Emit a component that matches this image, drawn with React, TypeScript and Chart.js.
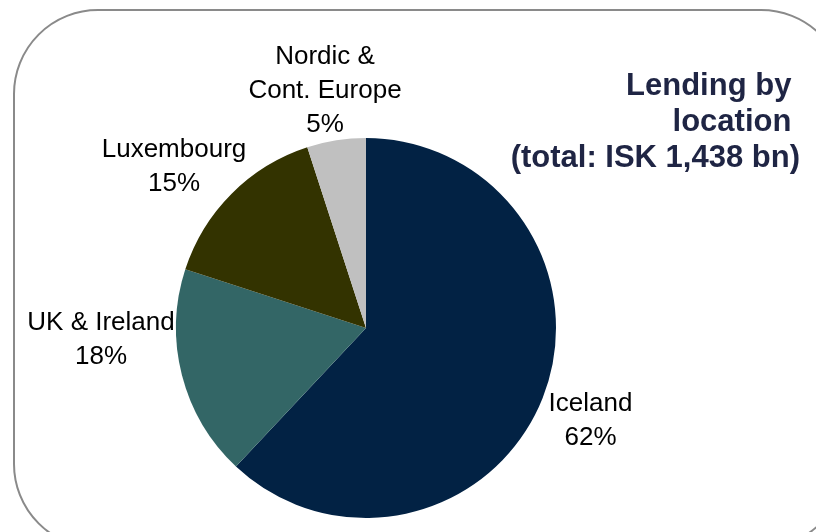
import React, { useEffect, useRef } from "react";
import { Chart, registerables } from "chart.js";

Chart.register(...registerables);

// ---- data ----
const categories = ["Iceland", "UK & Ireland", "Luxembourg", "Nordic & Cont. Europe"];
const labelLines = [["Iceland"], ["UK & Ireland"], ["Luxembourg"], ["Nordic &", "Cont. Europe"]];
const shares = [62, 18, 15, 5];
const titleLines = ["Lending by ", "location ", "(total: ISK 1,438 bn)"];

// ---- styles / layout ----
const sliceColors = ["#022244", "#336666", "#333300", "#C0C0C0"];
const labelOffsets = [
  { dx: 224.5, dy: 83 },
  { dx: -265, dy: 1.5 },
  { dx: -192, dy: -171.5 },
  { dx: -41, dy: -264.5 },
];
const FONT = '"Liberation Sans", Arial, sans-serif';

const decorPlugin = {
  id: "decor",
  beforeDraw(chart: any) {
    const ctx = chart.ctx;
    ctx.save();
    ctx.strokeStyle = "#8a8a8a";
    ctx.lineWidth = 2;
    ctx.beginPath();
    (ctx as any).roundRect(14, 10, 831, 538, 84);
    ctx.stroke();
    ctx.restore();
  },
  afterDraw(chart: any) {
    const ctx = chart.ctx;
    const meta = chart.getDatasetMeta(0);
    const data = chart.data.datasets[0].data as number[];
    const total = data.reduce((a, b) => a + b, 0);
    ctx.save();
    ctx.fillStyle = "#000000";
    ctx.font = `26px ${FONT}`;
    ctx.textAlign = "center";
    ctx.textBaseline = "alphabetic";
    meta.data.forEach((arc: any, i: number) => {
      const off = labelOffsets[i];
      const x = arc.x + off.dx;
      let y = arc.y + off.dy;
      const lines = [...labelLines[i], Math.round((data[i] / total) * 100) + "%"];
      lines.forEach((ln) => {
        ctx.fillText(ln, x, y);
        y += 34.3;
      });
    });
    ctx.fillStyle = "#1F2544";
    ctx.font = `bold 31px ${FONT}`;
    ctx.textAlign = "right";
    titleLines.forEach((t, i) => {
      ctx.fillText(t, 800, 95 + i * 36);
    });
    ctx.restore();
  },
};

export default function App() {
  const ref = useRef<HTMLCanvasElement>(null);
  useEffect(() => {
    if (!ref.current) return;
    const chart = new Chart(ref.current, {
      type: "pie",
      data: {
        labels: categories,
        datasets: [
          {
            data: shares,
            backgroundColor: sliceColors,
            borderWidth: 0,
          },
        ],
      },
      options: {
        responsive: false,
        animation: false,
        devicePixelRatio: 1,
        layout: { padding: { left: 176, right: 260, top: 138, bottom: 14 } },
        plugins: {
          legend: { display: false },
          tooltip: { enabled: false },
          title: { display: false },
        },
      },
      plugins: [decorPlugin],
    });
    return () => chart.destroy();
  }, []);
  return (
    <div style={{ position: "absolute", left: 0, top: 0, width: 816, height: 532, background: "#fff" }}>
      <canvas ref={ref} width={816} height={532} style={{ width: 816, height: 532 }} />
    </div>
  );
}
